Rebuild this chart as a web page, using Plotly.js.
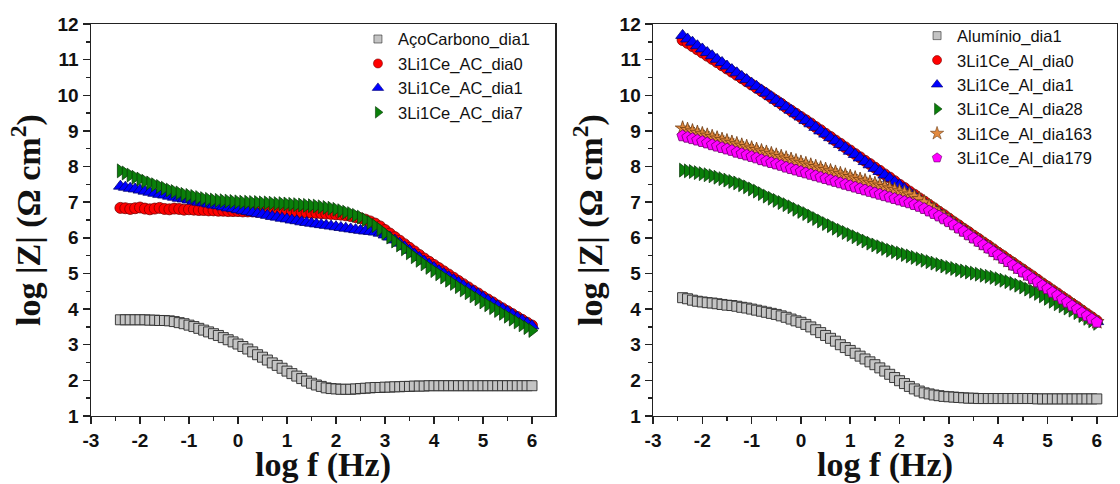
<!DOCTYPE html>
<html>
<head>
<meta charset="utf-8">
<script src="https://cdn.plot.ly/plotly-3.0.1.min.js"></script>
<style>html,body{margin:0;padding:0;background:#fff;}#chart{width:1120px;height:484px;}</style>
</head>
<body>
<div id="chart"></div>
<script>
// log f (Hz) sampling (shared by all series)
const logF = [
 -2.4,-2.3,-2.2,-2.1,-2.0,-1.9,-1.8,-1.7,-1.6,-1.5,
 -1.4,-1.3,-1.2,-1.1,-1.0,-0.9,-0.8,-0.7,-0.6,-0.5,
 -0.4,-0.3,-0.2,-0.1,0.0,0.1,0.2,0.3,0.4,0.5,
 0.6,0.7,0.8,0.9,1.0,1.1,1.2,1.3,1.4,1.5,
 1.6,1.7,1.8,1.9,2.0,2.1,2.2,2.3,2.4,2.5,
 2.6,2.7,2.8,2.9,3.0,3.1,3.2,3.3,3.4,3.5,
 3.6,3.7,3.8,3.9,4.0,4.1,4.2,4.3,4.4,4.5,
 4.6,4.7,4.8,4.9,5.0,5.1,5.2,5.3,5.4,5.5,
 5.6,5.7,5.8,5.9,6.0];

// axis tick labels (hyphen minus, as in the original)
const xTickVals = [-3,-2,-1,0,1,2,3,4,5,6];
const xTickText = ['-3','-2','-1','0','1','2','3','4','5','6'];
const yTickVals = [1,2,3,4,5,6,7,8,9,10,11,12];
const yTickText = ['1','2','3','4','5','6','7','8','9','10','11','12'];

// ---- Left panel: carbon steel ----
const acoCarbonoDia1 = [
 3.70,3.70,3.70,3.70,3.70,3.70,3.69,3.69,3.68,3.68,
 3.67,3.65,3.62,3.59,3.55,3.51,3.46,3.41,3.36,3.31,
 3.26,3.20,3.14,3.08,3.02,2.95,2.88,2.80,2.72,2.65,
 2.57,2.49,2.42,2.34,2.26,2.19,2.12,2.05,1.98,1.92,
 1.87,1.83,1.79,1.77,1.76,1.75,1.75,1.75,1.76,1.77,
 1.78,1.79,1.80,1.80,1.81,1.81,1.82,1.82,1.83,1.83,
 1.84,1.84,1.84,1.85,1.85,1.85,1.85,1.85,1.85,1.85,
 1.85,1.85,1.85,1.85,1.85,1.85,1.85,1.85,1.85,1.85,
 1.85,1.85,1.85,1.85,1.85];
const acDia0 = [
 6.84,6.83,6.81,6.83,6.85,6.82,6.80,6.82,6.84,6.81,
 6.80,6.82,6.81,6.79,6.80,6.79,6.78,6.78,6.77,6.77,
 6.76,6.76,6.75,6.75,6.75,6.74,6.74,6.74,6.73,6.73,
 6.73,6.73,6.72,6.72,6.72,6.72,6.72,6.71,6.71,6.70,
 6.70,6.69,6.68,6.67,6.66,6.65,6.63,6.61,6.58,6.55,
 6.51,6.46,6.40,6.32,6.22,6.12,6.02,5.92,5.82,5.72,
 5.62,5.52,5.42,5.33,5.24,5.15,5.06,4.97,4.88,4.79,
 4.70,4.61,4.52,4.44,4.35,4.27,4.19,4.10,4.02,3.94,
 3.86,3.78,3.70,3.62,3.54];
const acDia1 = [
 7.45,7.42,7.39,7.37,7.34,7.31,7.28,7.25,7.22,7.20,
 7.17,7.14,7.11,7.09,7.06,7.03,7.00,6.98,6.95,6.92,
 6.90,6.87,6.84,6.82,6.79,6.76,6.74,6.71,6.68,6.66,
 6.63,6.60,6.58,6.55,6.53,6.50,6.48,6.45,6.43,6.41,
 6.39,6.37,6.35,6.33,6.31,6.29,6.27,6.25,6.23,6.21,
 6.19,6.18,6.16,6.13,6.08,6.02,5.94,5.85,5.75,5.65,
 5.55,5.45,5.35,5.26,5.17,5.08,5.00,4.91,4.83,4.75,
 4.66,4.58,4.50,4.42,4.33,4.25,4.17,4.09,4.01,3.93,
 3.85,3.77,3.69,3.61,3.53];
const acDia7 = [
 7.88,7.82,7.76,7.70,7.65,7.59,7.54,7.49,7.44,7.39,
 7.34,7.30,7.26,7.22,7.19,7.16,7.13,7.10,7.08,7.06,
 7.05,7.04,7.03,7.02,7.01,7.00,7.00,6.99,6.99,6.98,
 6.98,6.97,6.96,6.96,6.95,6.94,6.93,6.92,6.91,6.90,
 6.89,6.87,6.85,6.83,6.80,6.76,6.72,6.68,6.63,6.58,
 6.51,6.43,6.34,6.24,6.13,6.02,5.91,5.80,5.69,5.58,
 5.47,5.37,5.27,5.17,5.08,4.99,4.90,4.81,4.72,4.63,
 4.54,4.46,4.37,4.29,4.20,4.12,4.04,3.96,3.88,3.80,
 3.72,3.64,3.56,3.48,3.40];

// ---- Right panel: aluminium ----
const aluminioDia1 = [
 4.32,4.29,4.25,4.22,4.20,4.18,4.17,4.15,4.13,4.11,
 4.10,4.08,4.05,4.03,4.00,3.97,3.94,3.91,3.88,3.85,
 3.81,3.77,3.72,3.67,3.63,3.57,3.50,3.42,3.34,3.26,
 3.18,3.10,3.00,2.92,2.84,2.76,2.68,2.60,2.52,2.44,
 2.35,2.26,2.17,2.08,1.99,1.91,1.83,1.76,1.70,1.65,
 1.62,1.59,1.57,1.55,1.54,1.53,1.52,1.51,1.50,1.50,
 1.49,1.49,1.49,1.49,1.49,1.49,1.49,1.49,1.49,1.49,
 1.49,1.49,1.48,1.48,1.48,1.48,1.48,1.48,1.48,1.48,
 1.48,1.48,1.48,1.48,1.48];
const alDia0 = [
 11.55,11.47,11.38,11.29,11.20,11.11,11.02,10.93,10.84,10.75,
 10.66,10.57,10.48,10.39,10.30,10.21,10.12,10.03,9.94,9.85,
 9.76,9.66,9.57,9.48,9.39,9.30,9.21,9.11,9.02,8.92,
 8.83,8.73,8.64,8.54,8.45,8.35,8.26,8.16,8.07,7.97,
 7.88,7.78,7.69,7.59,7.49,7.40,7.30,7.21,7.11,7.02,
 6.92,6.83,6.73,6.64,6.54,6.44,6.35,6.25,6.16,6.06,
 5.97,5.87,5.78,5.68,5.58,5.49,5.39,5.30,5.20,5.11,
 5.01,4.92,4.82,4.72,4.63,4.53,4.44,4.34,4.25,4.15,
 4.06,3.96,3.86,3.77,3.67];
const alDia1 = [
 11.68,11.58,11.49,11.39,11.30,11.20,11.11,11.01,10.92,10.82,
 10.72,10.63,10.53,10.44,10.34,10.25,10.15,10.06,9.96,9.86,
 9.77,9.67,9.58,9.48,9.39,9.29,9.20,9.10,9.00,8.91,
 8.81,8.72,8.62,8.53,8.43,8.34,8.24,8.14,8.05,7.95,
 7.86,7.76,7.67,7.57,7.48,7.38,7.28,7.19,7.09,7.00,
 6.90,6.81,6.71,6.62,6.52,6.42,6.33,6.23,6.14,6.04,
 5.95,5.85,5.76,5.66,5.56,5.47,5.37,5.28,5.18,5.09,
 4.99,4.90,4.80,4.70,4.61,4.51,4.42,4.32,4.23,4.13,
 4.04,3.94,3.84,3.75,3.65];
const alDia28 = [
 7.90,7.88,7.86,7.83,7.80,7.77,7.74,7.70,7.66,7.62,
 7.58,7.54,7.49,7.43,7.37,7.31,7.24,7.17,7.11,7.05,
 6.99,6.93,6.87,6.80,6.74,6.68,6.61,6.54,6.47,6.40,
 6.34,6.27,6.21,6.15,6.09,6.03,5.97,5.91,5.85,5.80,
 5.75,5.70,5.65,5.61,5.57,5.53,5.49,5.45,5.41,5.37,
 5.33,5.29,5.25,5.21,5.17,5.14,5.10,5.07,5.04,5.01,
 4.98,4.95,4.92,4.89,4.85,4.81,4.77,4.72,4.67,4.62,
 4.56,4.50,4.44,4.37,4.30,4.22,4.15,4.09,4.03,3.97,
 3.90,3.82,3.74,3.67,3.60];
const alDia163 = [
 9.07,9.03,8.99,8.95,8.91,8.87,8.83,8.79,8.75,8.71,
 8.67,8.63,8.59,8.55,8.51,8.47,8.43,8.39,8.35,8.31,
 8.27,8.23,8.19,8.15,8.11,8.07,8.03,7.99,7.95,7.91,
 7.87,7.83,7.79,7.75,7.71,7.67,7.63,7.59,7.55,7.51,
 7.47,7.43,7.39,7.35,7.31,7.27,7.22,7.16,7.09,7.00,
 6.90,6.80,6.70,6.61,6.51,6.41,6.32,6.22,6.13,6.03,
 5.94,5.84,5.75,5.65,5.55,5.46,5.36,5.27,5.17,5.08,
 4.98,4.89,4.79,4.69,4.60,4.50,4.41,4.31,4.22,4.12,
 4.03,3.93,3.83,3.74,3.64];
const alDia179 = [
 8.86,8.82,8.78,8.74,8.70,8.66,8.61,8.57,8.53,8.49,
 8.45,8.40,8.36,8.32,8.28,8.24,8.19,8.15,8.11,8.07,
 8.03,7.98,7.94,7.90,7.86,7.82,7.78,7.74,7.70,7.66,
 7.62,7.58,7.54,7.50,7.46,7.42,7.38,7.34,7.30,7.26,
 7.22,7.18,7.14,7.10,7.06,7.02,6.98,6.93,6.88,6.82,
 6.75,6.68,6.61,6.53,6.45,6.36,6.27,6.18,6.08,5.99,
 5.90,5.80,5.71,5.61,5.52,5.42,5.33,5.23,5.14,5.04,
 4.95,4.85,4.76,4.66,4.57,4.47,4.38,4.28,4.19,4.09,
 4.00,3.90,3.81,3.72,3.63];

const leftNames = ['AçoCarbono_dia1','3Li1Ce_AC_dia0','3Li1Ce_AC_dia1','3Li1Ce_AC_dia7'];
const rightNames = ['Alumínio_dia1','3Li1Ce_Al_dia0','3Li1Ce_Al_dia1','3Li1Ce_Al_dia28','3Li1Ce_Al_dia163','3Li1Ce_Al_dia179'];

const S = {
  gray:   {symbol:'square', size:10, color:'#c4c4c4', line:{color:'#2a2a2a', width:0.9}},
  red:    {symbol:'circle', size:11, color:'#ff0000', line:{color:'#7a0000', width:0.8}},
  blue:   {symbol:'triangle-up', size:12, color:'#0000ff', line:{color:'#000070', width:0.8}},
  green:  {symbol:'triangle-right', size:12, color:'#0a7f0a', line:{color:'#0b3d0b', width:0.8}},
  orange: {symbol:'star', size:11, color:'#e38a3f', line:{color:'#6b3a12', width:0.8}},
  pink:   {symbol:'pentagon', size:12, color:'#ff00ff', line:{color:'#6a006a', width:0.8}}
};
// smaller legend keys, as in the original legend
function small(st, s){ return Object.assign({}, st, {size:s, line:{color:st.line.color, width:0.6}}); }

function tr(y, st, xa, ya){
  return {x: logF, y: y, type:'scatter', mode:'markers', showlegend:false,
          marker: st, xaxis: xa, yaxis: ya, cliponaxis:false};
}
function key(name, st, xa, ya, lg){
  return {x:[null], y:[null], name:name, type:'scatter', mode:'markers', showlegend:true,
          marker: st, xaxis: xa, yaxis: ya, legend: lg};
}

const data = [
  tr(acoCarbonoDia1, S.gray, 'x', 'y'),
  tr(acDia0, S.red, 'x', 'y'),
  tr(acDia1, S.blue, 'x', 'y'),
  tr(acDia7, S.green, 'x', 'y'),
  tr(aluminioDia1, S.gray, 'x2', 'y2'),
  tr(alDia0, S.red, 'x2', 'y2'),
  tr(alDia1, S.blue, 'x2', 'y2'),
  tr(alDia28, S.green, 'x2', 'y2'),
  tr(alDia163, S.orange, 'x2', 'y2'),
  tr(alDia179, S.pink, 'x2', 'y2'),
  key(leftNames[0], small(S.gray, 8), 'x', 'y', 'legend'),
  key(leftNames[1], small(S.red, 9), 'x', 'y', 'legend'),
  key(leftNames[2], small(S.blue, 10), 'x', 'y', 'legend'),
  key(leftNames[3], small(S.green, 10), 'x', 'y', 'legend'),
  key(rightNames[0], small(S.gray, 8), 'x2', 'y2', 'legend2'),
  key(rightNames[1], small(S.red, 9), 'x2', 'y2', 'legend2'),
  key(rightNames[2], small(S.blue, 10), 'x2', 'y2', 'legend2'),
  key(rightNames[3], small(S.green, 10), 'x2', 'y2', 'legend2'),
  key(rightNames[4], small(S.orange, 10), 'x2', 'y2', 'legend2'),
  key(rightNames[5], small(S.pink, 10), 'x2', 'y2', 'legend2')
];

const tickFont = {family:'Liberation Sans, Arial, sans-serif', size:19, color:'#111', weight:'bold'};
const titleFont = {family:'Liberation Serif, Times New Roman, serif', size:34, color:'#111', weight:'bold'};

function xax(domain, range, anchor){
  return {domain: domain, range: range, anchor: anchor, automargin:false,
    tickmode:'array', tickvals:xTickVals, ticktext:xTickText,
    ticks:'outside', ticklen:7, tickwidth:1.5, tickcolor:'#222',
    minor:{dtick:0.5, tick0:-3, ticks:'outside', ticklen:4, tickwidth:1.5, tickcolor:'#222', showgrid:false},
    showline:true, linecolor:'#222', linewidth:1.5, mirror:true,
    showgrid:false, zeroline:false, tickfont: tickFont,
    title:{text:'log f (Hz)', font:titleFont, standoff:18}};
}
function yax(domain, anchor){
  return {domain: domain, range:[1,12], anchor: anchor, automargin:false,
    tickmode:'array', tickvals:yTickVals, ticktext:yTickText,
    ticks:'outside', ticklen:7, tickwidth:1.5, tickcolor:'#222',
    minor:{dtick:0.5, tick0:1, ticks:'outside', ticklen:4, tickwidth:1.5, tickcolor:'#222', showgrid:false},
    showline:true, linecolor:'#222', linewidth:1.5, mirror:true,
    showgrid:false, zeroline:false, tickfont: tickFont,
    title:{text:'log |Z| (Ω cm<sup>2</sup>)', font:titleFont, standoff:6}};
}

const yDom = [0.1405, 0.9504];
const legFont = {family:'Liberation Sans, Arial, sans-serif', size:16.5, color:'#111'};

const layout = {
  width:1120, height:484,
  margin:{l:0, r:0, t:0, b:0},
  paper_bgcolor:'#fff', plot_bgcolor:'#fff',
  showlegend:true,
  xaxis: xax([0.08125, 0.49554], [-3, 6.47], 'y'),
  yaxis: yax(yDom, 'x'),
  xaxis2: xax([0.58304, 0.99732], [-3, 6.41], 'y2'),
  yaxis2: yax(yDom, 'x2'),
  legend: {x:0.3196, y:0.955, xanchor:'left', yanchor:'top', bgcolor:'rgba(255,255,255,0)', borderwidth:0, font:legFont, tracegroupgap:0},
  legend2:{x:0.8188, y:0.962, xanchor:'left', yanchor:'top', bgcolor:'rgba(255,255,255,0)', borderwidth:0, font:legFont, tracegroupgap:0}
};

Plotly.newPlot('chart', data, layout, {staticPlot:true, displayModeBar:false});
</script>
</body>
</html>
